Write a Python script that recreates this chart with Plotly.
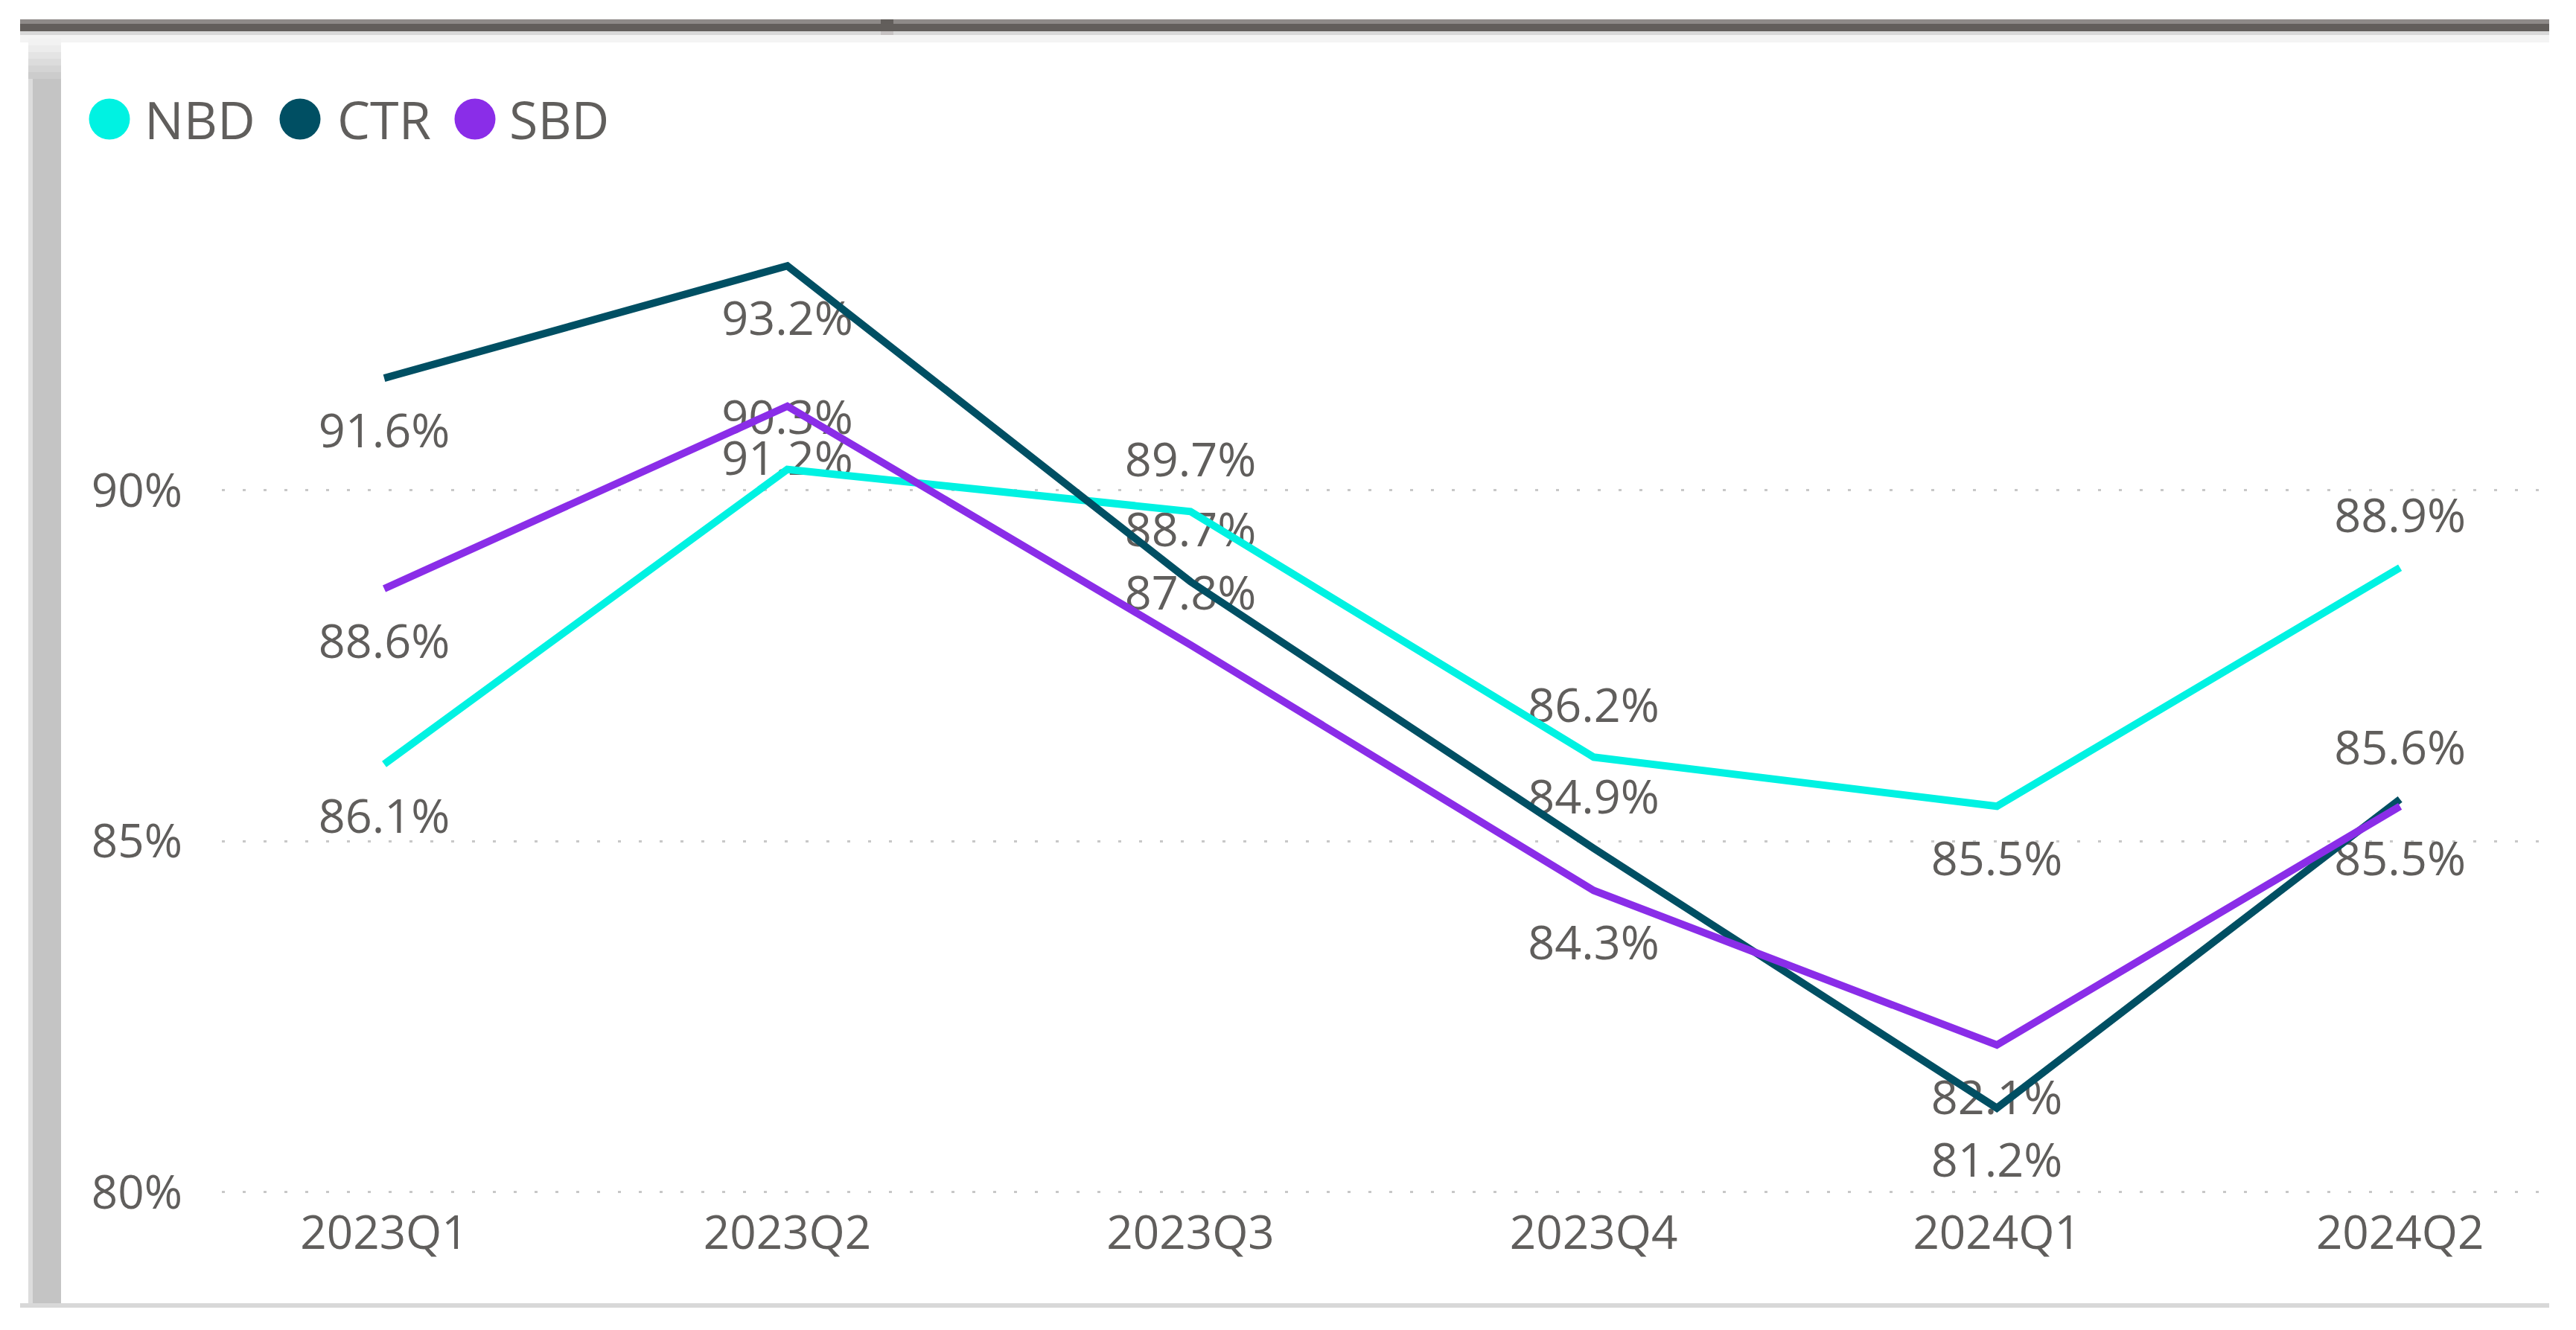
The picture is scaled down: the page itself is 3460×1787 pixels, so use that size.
import plotly.graph_objects as go

# ---------------- data ----------------
quarters = ["2023Q1", "2023Q2", "2023Q3", "2023Q4", "2024Q1", "2024Q2"]
nbd = [86.1, 90.3, 89.7, 86.2, 85.5, 88.9]
ctr = [91.6, 93.2, 88.7, 84.9, 81.2, 85.6]
sbd = [88.6, 91.2, 87.8, 84.3, 82.1, 85.5]
series_names = ["NBD", "CTR", "SBD"]
y_tick_vals = [80, 85, 90]
y_tick_text = ["80%", "85%", "90%"]

# ---------------- style ----------------
series_values = {"NBD": nbd, "CTR": ctr, "SBD": sbd}
colors = {"NBD": "#00F2E2", "CTR": "#004F63", "SBD": "#8A2DE8"}
label_side = {
    "NBD": ["below", "above", "above", "above", "below", "above"],
    "CTR": ["below", "below", "above", "above", "below", "above"],
    "SBD": ["below", "below", "above", "below", "below", "below"],
}
FONT = "Open Sans, Segoe UI, sans-serif"
TXT = "#605E5C"
W, H = 3460, 1787
L, R, T, B = 298, 3424, 200, 1615   # plot area in pixels


def px(xp):
    return (xp - L) / (R - L)


def py(yp):
    return (B - yp) / (B - T)


fig = go.Figure()

# data labels (drawn beneath the lines)
for name in series_names:
    vals = series_values[name]
    sides = label_side[name]
    fig.add_trace(go.Scatter(
        x=quarters, y=vals, mode="markers+text",
        text=[f"{v:.1f}%" for v in vals],
        textposition=["top center" if s == "above" else "bottom center" for s in sides],
        textfont=dict(family=FONT, size=63, color=TXT),
        marker=dict(size=[49 if s == "above" else 71 for s in sides],
                    color="rgba(0,0,0,0)", opacity=0),
        hoverinfo="skip", showlegend=False, cliponaxis=False,
    ))

# lines
for name in series_names:
    fig.add_trace(go.Scatter(
        x=quarters, y=series_values[name], mode="lines", name=name,
        line=dict(color=colors[name], width=10),
        showlegend=False,
    ))

shapes = []


def rect(x0, y0, x1, y1, color):
    shapes.append(dict(type="rect", xref="paper", yref="paper",
                       x0=px(x0), x1=px(x1), y0=py(y1), y1=py(y0),
                       fillcolor=color, line=dict(width=0), layer="below"))


# frame decorations
rect(27, 26, 3424, 32, "#8E8A88")
rect(27, 32, 3424, 42, "#625E5B")
rect(27, 42, 3424, 47, "#D8D8D8")
rect(27, 47, 3424, 57, "#F4F4F4")
rect(1183, 26, 1200, 42, "#625E5B")
rect(1183, 42, 1200, 47, "#C6C2C2")
rect(38, 52, 44, 1757, "#DCDCDC")
rect(44, 52, 82, 1757, "#C4C4C4")
grad = ["#F2F2F2", "#ECECEC", "#E4E4E4", "#DCDCDC", "#D4D4D4", "#CCCCCC"]
for i, c in enumerate(grad):
    rect(38, 52 + i * 9, 82, 61 + i * 9, c)
rect(27, 1751, 3424, 1757, "#D8D8D8")

# legend (manual, Power BI style)
legend_circle_x = [147, 403, 638]
legend_text_x = [192, 451, 682]
annotations = []
for name, cx, tx in zip(series_names, legend_circle_x, legend_text_x):
    shapes.append(dict(type="circle", xref="paper", yref="paper",
                       xsizemode="pixel", ysizemode="pixel",
                       xanchor=px(cx), yanchor=py(160),
                       x0=-27.5, x1=27.5, y0=-27.5, y1=27.5,
                       fillcolor=colors[name], line=dict(width=0)))
    annotations.append(dict(xref="paper", yref="paper", x=px(tx), y=py(160),
                            text=name, showarrow=False, xanchor="left", yanchor="middle",
                            font=dict(family=FONT, size=70, color=TXT)))

fig.update_layout(
    width=W, height=H, autosize=False,
    margin=dict(l=L, r=W - R, t=T, b=H - B, pad=0),
    paper_bgcolor="white", plot_bgcolor="white",
    shapes=shapes, annotations=annotations,
    showlegend=False,
    font=dict(family=FONT, color=TXT),
    xaxis=dict(type="category", range=[-0.4026, 5.370], showgrid=False,
               zeroline=False, showline=False, ticks="",
               tickfont=dict(family=FONT, size=62, color=TXT)),
    yaxis=dict(range=[79.862, 94.867], tickvals=y_tick_vals, ticktext=y_tick_text,
               showgrid=True, gridcolor="#C8C8C8", gridwidth=3, griddash="4px,24px",
               zeroline=False, showline=False, ticks="", ticklabelstandoff=52,
               tickfont=dict(family=FONT, size=62, color=TXT)),
)

fig.write_html("out.html",
               config={"displayModeBar": False},
               post_script="document.body.style.margin='0';document.body.style.overflow='hidden';")
